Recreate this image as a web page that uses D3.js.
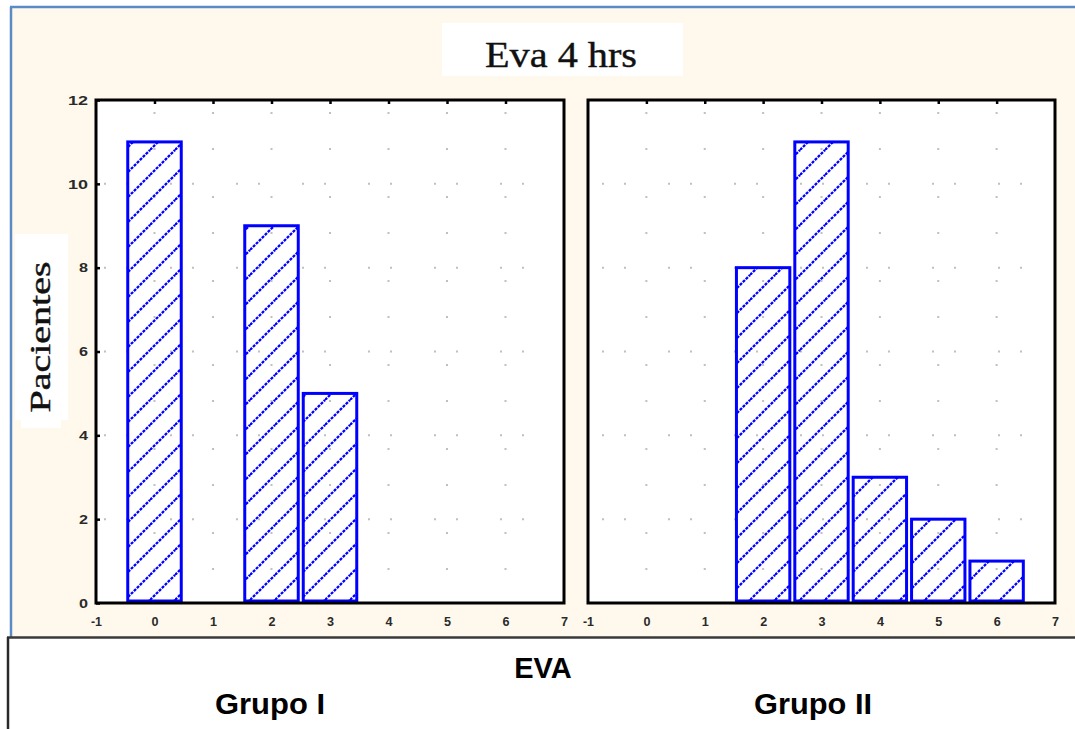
<!DOCTYPE html>
<html>
<head>
<meta charset="utf-8">
<script src="https://cdn.jsdelivr.net/npm/d3@7/dist/d3.min.js"></script>
<style>
  html, body { margin: 0; padding: 0; background: #ffffff; }
  svg { display: block; }
</style>
</head>
<body>
<svg id="chart" width="1075" height="729"></svg>
<script>
// EVA pain scores at 4 hours: number of patients per score, two groups
const categories = [0, 1, 2, 3, 4, 5, 6];
const grupoI  = [11, 0, 9, 5, 0, 0, 0];
const grupoII = [0, 0, 8, 11, 3, 2, 1];
const xTicks = [-1, 0, 1, 2, 3, 4, 5, 6, 7];
const yTicks = [0, 2, 4, 6, 8, 10, 12];
const panelTitles = ["Grupo I", "Grupo II"];
const chartTitle = "Eva 4 hrs";
const yTitle = "Pacientes";
const xTitle = "EVA";

const svg = d3.select("#chart");
const BLUE = "#0000ff";
const CREAM = "#fff9ed";

// hatch pattern for the bars
const defs = svg.append("defs");
const pat = defs.append("pattern")
  .attr("id", "hatch")
  .attr("patternUnits", "userSpaceOnUse")
  .attr("width", 25).attr("height", 25);
pat.append("path")
  .attr("d", "M-5,5 L5,-5 M0,25 L25,0 M20,30 L30,20")
  .attr("stroke", BLUE)
  .attr("stroke-width", 2.3)
  .attr("stroke-dasharray", "3 1.2")
  .attr("fill", "none");

// background frame
svg.append("rect").attr("x", 11).attr("y", 7).attr("width", 1064).attr("height", 630).attr("fill", CREAM);
svg.append("line").attr("x1", 10).attr("x2", 1075).attr("y1", 7).attr("y2", 7)
  .attr("stroke", "#5b8bc5").attr("stroke-width", 2.5);
svg.append("line").attr("x1", 11).attr("x2", 11).attr("y1", 7).attr("y2", 637)
  .attr("stroke", "#5b8bc5").attr("stroke-width", 2.5);
svg.append("line").attr("x1", 7).attr("x2", 1075).attr("y1", 637.5).attr("y2", 637.5)
  .attr("stroke", "#3a3a3a").attr("stroke-width", 2.5);
svg.append("line").attr("x1", 8).attr("x2", 8).attr("y1", 637).attr("y2", 729)
  .attr("stroke", "#2a2a2a").attr("stroke-width", 2.5);

// chart title
svg.append("rect").attr("x", 442).attr("y", 23).attr("width", 241).attr("height", 53).attr("fill", "#fff");
svg.append("text")
  .attr("x", 561).attr("y", 67)
  .attr("text-anchor", "middle")
  .attr("font-family", "'Liberation Serif', 'Times New Roman', serif")
  .attr("font-size", 36)
  .attr("textLength", 152)
  .attr("lengthAdjust", "spacingAndGlyphs")
  .attr("fill", "#111")
  .attr("stroke", "#111").attr("stroke-width", 0.4)
  .text(chartTitle);

// y axis title
svg.append("rect").attr("x", 15).attr("y", 234).attr("width", 53).attr("height", 186).attr("fill", "#fff");
svg.append("rect").attr("x", 21).attr("y", 418).attr("width", 40).attr("height", 10).attr("fill", "#fff");
svg.append("text")
  .attr("transform", "translate(50,337) rotate(-90)")
  .attr("text-anchor", "middle")
  .attr("font-family", "'Liberation Serif', 'Times New Roman', serif")
  .attr("font-size", 29)
  .attr("textLength", 151)
  .attr("lengthAdjust", "spacingAndGlyphs")
  .attr("fill", "#111")
  .attr("stroke", "#111").attr("stroke-width", 0.4)
  .text(yTitle);

const plotTop = 100, plotBottom = 603;
const y = d3.scaleLinear().domain([0, 12]).range([plotBottom, plotTop]);

const panels = [
  { x0: 96, x1: 564, values: grupoI, showY: true },
  { x0: 588, x1: 1055, values: grupoII, showY: false }
];

panels.forEach((p, i) => {
  const x = d3.scaleLinear().domain([-1, 7]).range([p.x0, p.x1]);
  const g = svg.append("g");

  g.append("rect")
    .attr("x", p.x0).attr("y", plotTop)
    .attr("width", p.x1 - p.x0).attr("height", plotBottom - plotTop)
    .attr("fill", "#fff");

  // sparse dotted grid
  g.selectAll(".hgrid").data(yTicks.slice(1, -1)).join("line")
    .attr("x1", p.x0 + 8 + i * 6).attr("x2", p.x1 - 4)
    .attr("y1", d => y(d)).attr("y2", d => y(d))
    .attr("stroke", "#c0c0c0").attr("stroke-width", 2)
    .attr("stroke-dasharray", "2 20 2 42");
  g.selectAll(".vgrid").data(xTicks.slice(1, -1)).join("line")
    .attr("x1", d => x(d)).attr("x2", d => x(d))
    .attr("y1", plotTop + 12).attr("y2", plotBottom - 2)
    .attr("stroke", "#c0c0c0").attr("stroke-width", 2)
    .attr("stroke-dasharray", "2 34 2 46");

  // bars
  const bars = categories.map((c, k) => ({ c, v: p.values[k] })).filter(d => d.v > 0);
  g.selectAll(".bar").data(bars).join("rect")
    .attr("x", d => x(d.c - 0.5) + 2.5)
    .attr("width", d => x(d.c + 0.5) - x(d.c - 0.5) - 5)
    .attr("y", d => y(d.v))
    .attr("height", d => y(0) - y(d.v) - 2)
    .attr("fill", "url(#hatch)")
    .attr("stroke", BLUE)
    .attr("stroke-width", 3);

  // frame
  g.append("rect")
    .attr("x", p.x0).attr("y", plotTop)
    .attr("width", p.x1 - p.x0).attr("height", plotBottom - plotTop)
    .attr("fill", "none").attr("stroke", "#000").attr("stroke-width", 3);

  // top inner ticks
  const topAxis = d3.axisTop(x).tickValues(xTicks.slice(1, -1)).tickSizeInner(-4).tickSizeOuter(0).tickFormat("");
  const ta = g.append("g").attr("transform", `translate(0,${plotTop})`).call(topAxis);
  ta.select(".domain").remove();
  ta.selectAll(".tick line").attr("stroke", "#000").attr("stroke-width", 2.5);

  // bottom tick labels
  const bottomAxis = d3.axisBottom(x).tickValues(xTicks).tickSize(0).tickPadding(14).tickFormat(d => String(d));
  const ba = g.append("g").attr("transform", `translate(0,${plotBottom})`).call(bottomAxis);
  ba.select(".domain").remove();
  ba.selectAll(".tick text")
    .attr("font-family", "'Liberation Sans', Arial, sans-serif")
    .attr("font-size", 13).attr("font-weight", "bold")
    .attr("fill", "#2a2a2a")
    .attr("textLength", d => d < 0 ? 11 : 7)
    .attr("lengthAdjust", "spacingAndGlyphs");

  if (p.showY) {
    const leftAxis = d3.axisLeft(y).tickValues(yTicks).tickSizeInner(-4).tickSizeOuter(0).tickPadding(8).tickFormat(d => String(d));
    const la = g.append("g").attr("transform", `translate(${p.x0},0)`).call(leftAxis);
    la.select(".domain").remove();
    la.selectAll(".tick line").attr("stroke", "#000").attr("stroke-width", 2.5);
    la.selectAll(".tick text")
      .attr("font-family", "'Liberation Sans', Arial, sans-serif")
      .attr("font-size", 13).attr("font-weight", "bold")
      .attr("fill", "#2a2a2a")
      .attr("textLength", d => d >= 10 ? 20 : 9)
      .attr("lengthAdjust", "spacingAndGlyphs");
  }
});

// axis / group titles
svg.append("text")
  .attr("x", 543).attr("y", 678)
  .attr("text-anchor", "middle")
  .attr("font-family", "'Liberation Sans', Arial, sans-serif")
  .attr("font-weight", "bold").attr("font-size", 29)
  .attr("fill", "#000")
  .text(xTitle);

const groupX = [270, 813];
svg.selectAll(".grp").data(panelTitles).join("text")
  .attr("x", (d, i) => groupX[i]).attr("y", 714)
  .attr("text-anchor", "middle")
  .attr("font-family", "'Liberation Sans', Arial, sans-serif")
  .attr("font-weight", "bold").attr("font-size", 29)
  .attr("fill", "#000")
  .attr("textLength", (d, i) => i === 0 ? 110 : 118)
  .attr("lengthAdjust", "spacingAndGlyphs")
  .text(d => d);
</script>
</body>
</html>
